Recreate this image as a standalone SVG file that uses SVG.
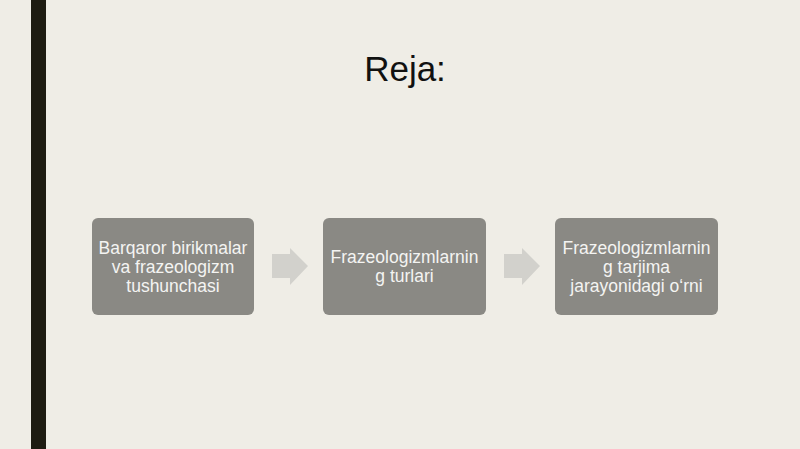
<svg xmlns="http://www.w3.org/2000/svg" width="800" height="449" viewBox="0 0 800 449">
<style>
.box{fill:#8a8984;}
.lbl{font-family:"Liberation Sans",Arial,sans-serif;font-size:17.5px;fill:#f4f4f2;text-anchor:middle;}
.arr{fill:#d2d1cc;}
</style>
<rect width="800" height="449" fill="#efede6"/>
<rect x="31" y="0" width="15" height="449" fill="#1e1c12"/>
<text x="405" y="81" font-family="Liberation Sans, Arial, sans-serif" font-size="35" fill="#111" text-anchor="middle">Reja:</text>
<g id="node1">
<rect class="box" x="92" y="218" width="162" height="97" rx="6"/>
<text class="lbl"><tspan x="173" y="254">Barqaror birikmalar</tspan><tspan x="173" y="273">va frazeologizm</tspan><tspan x="173" y="292">tushunchasi</tspan></text>
</g>
<g id="node2">
<rect class="box" x="323" y="218" width="163" height="97" rx="6"/>
<text class="lbl"><tspan x="404.5" y="263">Frazeologizmlarnin</tspan><tspan x="404.5" y="282">g turlari</tspan></text>
</g>
<g id="node3">
<rect class="box" x="555" y="218" width="163" height="97" rx="6"/>
<text class="lbl"><tspan x="636.5" y="254">Frazeologizmlarnin</tspan><tspan x="636.5" y="273">g tarjima</tspan><tspan x="636.5" y="292">jarayonidagi o‘rni</tspan></text>
</g>
<g id="connectors">
<polygon class="arr" points="272,254 290,254 290,248 308,266 290,285 290,278 272,278"/>
<polygon class="arr" points="504,254 522,254 522,248 540,266 522,285 522,278 504,278"/>
</g>
</svg>
